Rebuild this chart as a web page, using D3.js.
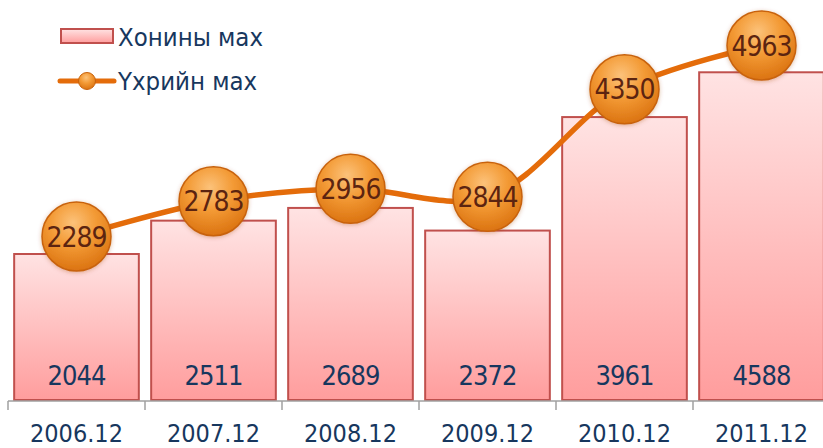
<!DOCTYPE html>
<html>
<head>
<meta charset="utf-8">
<script src="https://cdn.jsdelivr.net/npm/d3@7"></script>
<style>
  body { margin: 0; background: #fff; }
  svg { display: block; }
</style>
</head>
<body>
<div id="chart"></div>
<script>
// data
var years = ["2006.12", "2007.12", "2008.12", "2009.12", "2010.12", "2011.12"];
var sheep = [2044, 2511, 2689, 2372, 3961, 4588];   // Хонины мах (bars)
var beef = [2289, 2783, 2956, 2844, 4350, 4963];    // Үхрийн мах (line)
var seriesNames = ["Хонины мах", "Үхрийн мах"];

var W = 823, H = 448;
var svg = d3.select("#chart").append("svg").attr("width", W).attr("height", H);
var defs = svg.append("defs");

var barGrad = defs.append("linearGradient").attr("id", "barGrad")
  .attr("x1", 0).attr("y1", 0).attr("x2", 0).attr("y2", 1);
barGrad.append("stop").attr("offset", "0%").attr("stop-color", "#ffe3e3");
barGrad.append("stop").attr("offset", "100%").attr("stop-color", "#ff9d9d");

var ballGrad = defs.append("radialGradient").attr("id", "ballGrad")
  .attr("cx", "45%").attr("cy", "30%").attr("r", "75%");
ballGrad.append("stop").attr("offset", "0%").attr("stop-color", "#fcc27a");
ballGrad.append("stop").attr("offset", "45%").attr("stop-color", "#f39a35");
ballGrad.append("stop").attr("offset", "100%").attr("stop-color", "#d86e0c");

var glow = defs.append("filter").attr("id", "glow")
  .attr("x", "-30%").attr("y", "-30%").attr("width", "160%").attr("height", "160%");
glow.append("feDropShadow").attr("dx", 0).attr("dy", 1).attr("stdDeviation", 2)
  .attr("flood-color", "#a04000").attr("flood-opacity", 0.35);

var x = d3.scaleBand().domain(years).range([8, 830]).paddingInner(0.09).paddingOuter(0.045);
var y = d3.scaleLinear().domain([0, 5600]).range([400, 0]);
var step = x.step();
var font = "DejaVu Sans Condensed, DejaVu Sans";

// bars
svg.append("g").selectAll("rect").data(sheep).join("rect")
  .attr("x", function(d, i) { return x(years[i]); })
  .attr("y", function(d) { return y(d); })
  .attr("width", x.bandwidth())
  .attr("height", function(d) { return y(0) - y(d); })
  .attr("fill", "url(#barGrad)")
  .attr("stroke", "#c0504d")
  .attr("stroke-width", 2);

// x axis line and ticks
var axis = svg.append("g").attr("stroke", "#a0a0a0").attr("stroke-width", 1.5);
axis.append("line").attr("x1", 8).attr("x2", W).attr("y1", 401).attr("y2", 401);
axis.selectAll("line.tick").data(d3.range(years.length + 1)).join("line")
  .attr("class", "tick")
  .attr("x1", function(i) { return 8 + i * step; })
  .attr("x2", function(i) { return 8 + i * step; })
  .attr("y1", 401).attr("y2", 410);

svg.append("g").selectAll("text").data(years).join("text")
  .attr("x", function(d) { return x(d) + x.bandwidth() / 2; })
  .attr("y", 442)
  .attr("text-anchor", "middle")
  .attr("font-family", font)
  .attr("font-stretch", "condensed")
  .attr("font-size", 25)
  .attr("fill", "#17375e")
  .text(function(d) { return d; });

// bar value labels
svg.append("g").selectAll("text").data(sheep).join("text")
  .attr("x", function(d, i) { return x(years[i]) + x.bandwidth() / 2; })
  .attr("y", 385)
  .attr("text-anchor", "middle")
  .attr("font-family", font)
  .attr("font-stretch", "condensed")
  .attr("font-size", 27)
  .attr("letter-spacing", -1)
  .attr("fill", "#17375e")
  .text(function(d) { return d; });

// line
var cx = function(d, i) { return x(years[i]) + x.bandwidth() / 2; };
var line = d3.line().x(cx).y(function(d) { return y(d); }).curve(d3.curveCatmullRom.alpha(0.5));
svg.append("path").datum(beef)
  .attr("d", line)
  .attr("fill", "none")
  .attr("stroke", "#e46c0a")
  .attr("stroke-width", 5.5)
  .attr("stroke-linecap", "round");

var balls = svg.append("g").selectAll("g").data(beef).join("g")
  .attr("transform", function(d, i) { return "translate(" + cx(d, i) + "," + y(d) + ")"; });
balls.append("circle").attr("r", 34.5)
  .attr("fill", "url(#ballGrad)")
  .attr("stroke", "#c8620c").attr("stroke-width", 1.5)
  .attr("filter", "url(#glow)");
balls.append("text")
  .attr("y", 10)
  .attr("text-anchor", "middle")
  .attr("font-family", font)
  .attr("font-stretch", "condensed")
  .attr("font-size", 28)
  .attr("letter-spacing", -1)
  .attr("fill", "#5c2410")
  .text(function(d) { return d; });

// legend
var lg = svg.append("g").attr("font-family", font)
  .attr("font-stretch", "condensed").attr("font-size", 25.5).attr("fill", "#17375e");
lg.append("rect").attr("x", 61).attr("y", 29).attr("width", 52).attr("height", 14)
  .attr("fill", "url(#barGrad)").attr("stroke", "#c0504d").attr("stroke-width", 2);
lg.append("text").attr("x", 118).attr("y", 46).text(seriesNames[0]);
lg.append("line").attr("x1", 60).attr("x2", 114).attr("y1", 81).attr("y2", 81)
  .attr("stroke", "#e46c0a").attr("stroke-width", 5).attr("stroke-linecap", "round");
lg.append("circle").attr("cx", 87).attr("cy", 81).attr("r", 8.5)
  .attr("fill", "url(#ballGrad)").attr("stroke", "#c8620c").attr("stroke-width", 1);
lg.append("text").attr("x", 118).attr("y", 90).text(seriesNames[1]);
</script>
</body>
</html>
